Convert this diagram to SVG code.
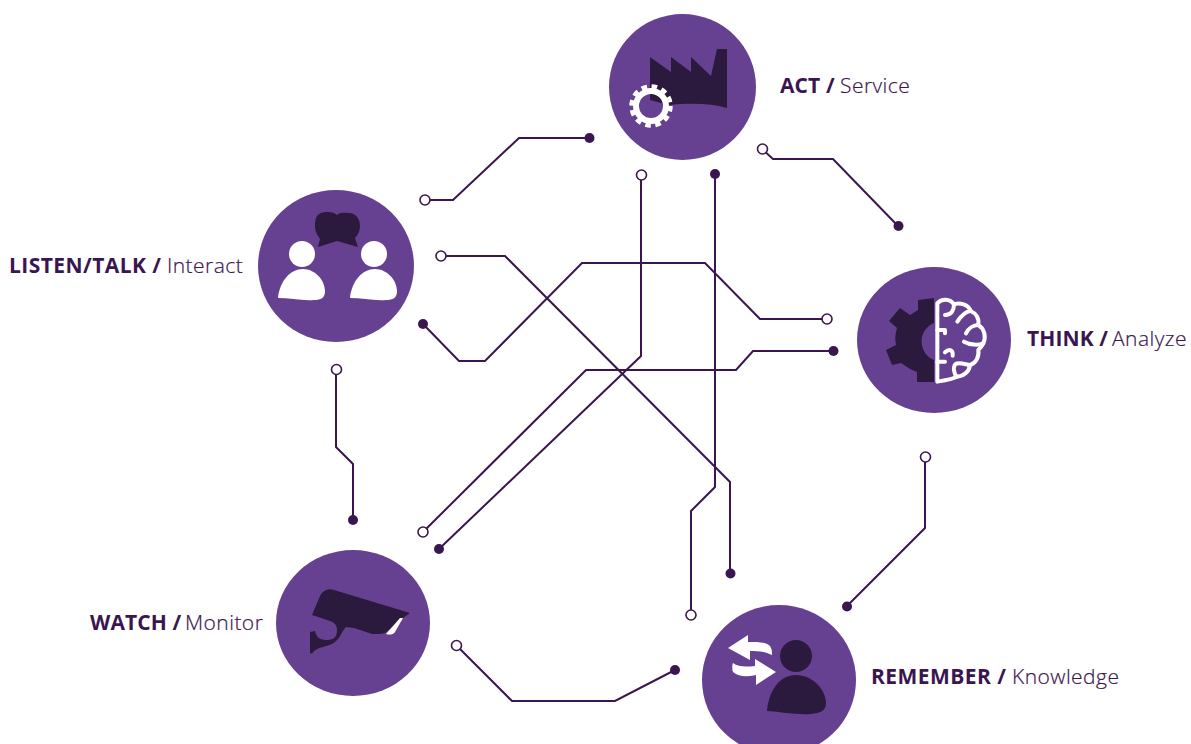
<svg xmlns="http://www.w3.org/2000/svg" width="1191" height="744" viewBox="0 0 1191 744">
<style>
.disc{fill:#674191}
.dark{fill:#2b1a3d}
.white{fill:#fff}
.conn{fill:none;stroke:#3a1650;stroke-width:2;stroke-linejoin:miter}
.open{fill:#fff;stroke:#3a1650;stroke-width:1.6}
.solid{fill:#3a1650}
text{font-family:"Open Sans","Noto Sans","Liberation Sans",sans-serif;font-size:21px;letter-spacing:.45px;fill:#3a1650}
.b{font-weight:700}
.t{letter-spacing:.1px}
.l{font-weight:300;stroke:#3a1650;stroke-width:.2px}
</style>
<rect width="1191" height="744" fill="#fff"/>
<g id="connectors">
<path class="conn" d="M425 200H453L519 138H589"/><circle class="open" cx="425" cy="200" r="5"/><circle class="solid" cx="589.500" cy="138" r="5"/>
<path class="conn" d="M441 256H505L730 482V573"/><circle class="open" cx="441" cy="256" r="5"/><circle class="solid" cx="730.500" cy="573.500" r="5"/>
<path class="conn" d="M423 324L459 361H485L582 263H705L760 319H827"/><circle class="solid" cx="423" cy="324" r="5"/><circle class="open" cx="827" cy="319" r="5"/>
<path class="conn" d="M423 532L586 370H736L753 351H833"/><circle class="open" cx="423" cy="532" r="5"/><circle class="solid" cx="833.500" cy="351" r="5"/>
<path class="conn" d="M439 549L641 356V175"/><circle class="solid" cx="439" cy="549" r="5"/><circle class="open" cx="641.500" cy="175" r="5"/>
<path class="conn" d="M691 615V511L715 487V174"/><circle class="open" cx="691" cy="615" r="5"/><circle class="solid" cx="715" cy="174" r="5"/>
<path class="conn" d="M762 149L773 159H833L898 226"/><circle class="open" cx="762.500" cy="149" r="5"/><circle class="solid" cx="898.500" cy="226" r="5"/>
<path class="conn" d="M925 457V528L847 606"/><circle class="open" cx="925.500" cy="457" r="5"/><circle class="solid" cx="847" cy="606.500" r="5"/>
<path class="conn" d="M336 369V447L353 464V520"/><circle class="open" cx="336.500" cy="369.500" r="5"/><circle class="solid" cx="353" cy="520" r="5"/>
<path class="conn" d="M456 645L512 701H615L675 670"/><circle class="open" cx="456.500" cy="645.500" r="5"/><circle class="solid" cx="675" cy="670" r="5"/>
</g>
<g id="act">
<ellipse class="disc" cx="682.500" cy="87" rx="73.500" ry="73"/>
<path class="dark" d="M650 57L671 72V57L691 72V57L711 76L717 49H727V108C710 103 690 103 668 105L650 100Z"/>
<circle cx="651" cy="106" r="15" fill="none" stroke="#fff" stroke-width="6"/>
<circle cx="651" cy="106" r="19.500" fill="none" stroke="#fff" stroke-width="4.500" stroke-dasharray="5.600 4.610"/>
<text x="780" y="93"><tspan class="b t">ACT / </tspan><tspan class="l" x="840">Service</tspan></text>
</g>
<g id="think">
<ellipse class="disc" cx="934" cy="340" rx="77" ry="73"/>
<path class="dark" d="M934 298L918 300V310L910 315L900 308L889 321L897 328C895 335 895 338 896 345L886 350L892 365L901 363L910 369L917 372V382L934 382V360A20 20 0 0 1 934 323Z"/>
<g transform="translate(850 265) scale(.3333)" fill="none" stroke="#fff" stroke-width="12" stroke-linecap="round" stroke-linejoin="round">
<path d="M262 350V115C275 100 300 100 312 118C330 112 355 118 362 138C378 145 388 160 385 180C402 190 410 215 400 235C395 245 390 250 385 255C388 275 378 295 360 300C358 320 340 335 320 335C305 345 285 345 262 350Z"/>
<path d="M312 118C312 135 305 150 285 150M362 138C345 140 335 150 322 170M385 180C370 180 355 190 348 205M400 235C385 242 360 240 342 230M262 195H285V205M285 262C298 250 310 255 308 272M360 300C345 298 325 290 316 298C308 308 312 325 320 335M262 290H285"/>
</g>
<text x="1027" y="346"><tspan class="b t">THINK / </tspan><tspan class="l" x="1112">Analyze</tspan></text>
</g>
<g id="listen">
<ellipse class="disc" cx="336" cy="266" rx="78" ry="76"/>
<path class="dark" d="M337 215C332 211 325 212 321 213C315 215 315 222 315 226C315 232 318 236 320 239L318 247L337 241L358 247L355 238C358 235 360 231 360 226C360 218 355 213 349 213C345 213 340 212 337 215Z"/>
<circle class="white" cx="302" cy="254" r="13"/>
<circle class="white" cx="374" cy="254" r="13"/>
<path class="white" d="M278 298C280 281 290 269 303 269C315 269 325 280 325 291C325 298 321 300 314 300C302 301 290 298 278 298Z"/>
<path class="white" d="M350 298C352 281 362 269 375 269C387 269 397 280 397 291C397 298 393 300 386 300C374 301 362 298 350 298Z"/>
<text x="9" y="273"><tspan class="b">LISTEN/TALK / </tspan><tspan class="l" x="167">Interact</tspan></text>
</g>
<g id="watch">
<ellipse class="disc" cx="353" cy="623" rx="77" ry="73"/>
<path class="dark" d="M312 615L320 596C323 590 328 588 334 590L410 613L403 618L385 633L380 634L372 634L354 628L346 627C341 632 340 640 332 644C325 647 319 647 314 651C312 654 311 654 310 653V632L315 631C316 636 319 640 326 640C333 640 337 638 337 630C337 625 334 622 330 621Z"/>
<path class="white" d="M386 634L400 618L403 618L395 632C393 635 389 635 386 634Z"/>
<text x="90" y="630"><tspan class="b t">WATCH / </tspan><tspan class="l" x="185">Monitor</tspan></text>
</g>
<g id="remember">
<ellipse class="disc" cx="779" cy="680" rx="77" ry="75"/>
<circle class="dark" cx="796" cy="656" r="16"/>
<path class="dark" d="M767 711C769 690 780 675 796 675C813 675 826 690 826 703C826 711 820 713 811 714C796 715 782 712 767 711Z"/>
<path class="white" d="M728 648L748 635V642C758 642 766 642 770 646C772 649 772 652 772 655C765 651 757 651 750 651V660Z"/>
<path class="white" d="M776 672L756 685V675C747 677 739 677 733 672C732 669 732 665 733 663C738 667 746 667 755 666V659Z"/>
<text x="871" y="684"><tspan class="b">REMEMBER / </tspan><tspan class="l" x="1012">Knowledge</tspan></text>
</g>
</svg>
